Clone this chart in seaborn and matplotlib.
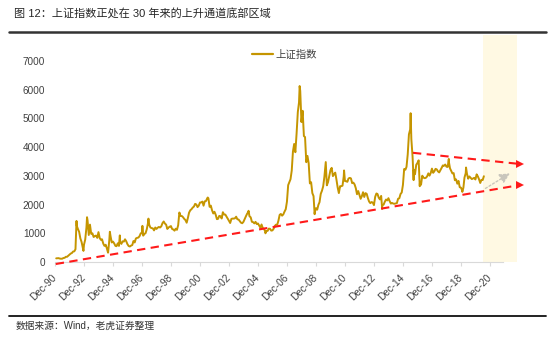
import numpy as np
import pandas as pd
import matplotlib
matplotlib.use("Agg")
import matplotlib.pyplot as plt
import seaborn as sns
from matplotlib.lines import Line2D

# ---------------- data ----------------
title = "图 12：上证指数正处在 30 年来的上升通道底部区域"
source = "数据来源：Wind，老虎证券整理"
series_name = "上证指数"

# month-end closes, Dec 1990 .. Jun 2020
close_1990 = [127]
close_1991 = [130, 134, 120, 114, 115, 138, 145, 181, 180, 219, 260, 293]
close_1992 = [313, 364, 370, 445, 1266, 1150, 1050, 820, 700, 500, 600, 780]
close_1993 = [1200, 1450, 940, 1300, 980, 1000, 870, 900, 920, 840, 1040, 833]
close_1994 = [770, 790, 640, 560, 600, 470, 333, 780, 900, 680, 710, 648]
close_1995 = [560, 550, 650, 560, 700, 630, 720, 710, 790, 720, 620, 555]
close_1996 = [540, 570, 590, 730, 680, 820, 840, 850, 900, 1000, 1000, 917]
close_1997 = [980, 1000, 1140, 1350, 1300, 1200, 1180, 1170, 1100, 1200, 1150, 1194]
close_1998 = [1220, 1200, 1240, 1350, 1410, 1340, 1300, 1150, 1200, 1230, 1250, 1146]
close_1999 = [1130, 1090, 1160, 1120, 1280, 1690, 1600, 1600, 1560, 1500, 1460, 1367]
close_2000 = [1535, 1715, 1800, 1836, 1894, 1928, 2023, 2001, 1911, 1961, 2070, 2073]
close_2001 = [2103, 1960, 2112, 2120, 2214, 2218, 1920, 1961, 1800, 1689, 1748, 1646]
close_2002 = [1491, 1500, 1604, 1595, 1514, 1733, 1651, 1650, 1581, 1503, 1436, 1357]
close_2003 = [1500, 1511, 1511, 1521, 1577, 1487, 1477, 1421, 1367, 1349, 1397, 1497]
close_2004 = [1590, 1675, 1742, 1593, 1555, 1400, 1387, 1343, 1397, 1320, 1341, 1266]
close_2005 = [1191, 1306, 1181, 1159, 1060, 1080, 1083, 1162, 1155, 1092, 1100, 1161]
close_2006 = [1259, 1299, 1299, 1441, 1642, 1672, 1612, 1658, 1753, 1838, 2099, 2675]
close_2007 = [2786, 2881, 3183, 3841, 4109, 3821, 4471, 5219, 5552, 5954, 4871, 5262]
close_2008 = [4383, 4348, 3473, 3693, 3433, 2736, 2776, 2397, 2293, 1729, 1871, 1821]
close_2009 = [1991, 2082, 2373, 2478, 2633, 2959, 3412, 2668, 2779, 2996, 3195, 3277]
close_2010 = [2989, 3051, 3110, 2871, 2592, 2398, 2638, 2639, 2656, 2979, 2820, 2808]
close_2011 = [2791, 2905, 2928, 2911, 2743, 2762, 2701, 2568, 2359, 2469, 2333, 2199]
close_2012 = [2293, 2429, 2263, 2397, 2373, 2225, 2103, 2048, 2086, 2069, 1980, 2269]
close_2013 = [2385, 2366, 2237, 2178, 2301, 1979, 1994, 2098, 2175, 2142, 2221, 2116]
close_2014 = [2033, 2056, 2033, 2026, 2039, 2048, 2202, 2217, 2364, 2420, 2683, 3235]
close_2015 = [3210, 3310, 3748, 4442, 4612, 4277, 3664, 3206, 3053, 3383, 3446, 3539]
close_2016 = [2738, 2688, 3004, 2938, 2917, 2930, 2979, 3085, 3005, 3100, 3250, 3104]
close_2017 = [3159, 3242, 3223, 3155, 3117, 3192, 3273, 3361, 3349, 3393, 3317, 3307]
close_2018 = [3481, 3259, 3169, 3082, 3095, 2847, 2876, 2725, 2821, 2603, 2588, 2494]
close_2019 = [2585, 2941, 3091, 3078, 2899, 2979, 2933, 2886, 2905, 2929, 2872, 3050]
close_2020 = [2977, 2880, 2750, 2860, 2852, 2985]

# intra-month extremes
extreme_dates = ["1992-05-26", "1992-11-17", "1993-02-15", "1994-07-29", "1994-09-13",
                 "1995-05-22", "1996-12-11", "1997-05-12", "1999-06-30", "2001-06-14",
                 "2004-04-07", "2005-06-06", "2007-10-16", "2008-10-28", "2009-08-04",
                 "2010-11-08", "2013-06-25", "2015-06-12", "2015-08-26", "2016-01-28",
                 "2018-01-29", "2019-01-04", "2019-04-08"]
extreme_values = [1429, 386, 1558, 325, 1052,
                  926, 1258, 1510, 1756, 2245,
                  1783, 998, 6124, 1664, 3478,
                  3186, 1849, 5178, 2850, 2638,
                  3587, 2440, 3288]

# channel lines (start / end)
lower_dates = ["1990-12-20", "2023-01-01"]
lower_values = [-70, 2680]
upper_dates = ["2015-08-10", "2023-01-01"]
upper_values = [3800, 3410]
guess_dates = ["2020-06-10", "2022-06-15"]
guess_values = [2510, 3135]
shade_dates = ["2020-06-08", "2022-10-12"]

xtick_years = list(range(1990, 2021, 2))
yticks = [0, 1000, 2000, 3000, 4000, 5000, 6000, 7000]

# ---------------- build frame ----------------
monthly = (close_1990 + close_1991 + close_1992 + close_1993 + close_1994 + close_1995 +
           close_1996 + close_1997 + close_1998 + close_1999 + close_2000 + close_2001 +
           close_2002 + close_2003 + close_2004 + close_2005 + close_2006 + close_2007 +
           close_2008 + close_2009 + close_2010 + close_2011 + close_2012 + close_2013 +
           close_2014 + close_2015 + close_2016 + close_2017 + close_2018 + close_2019 +
           close_2020)
mdates_ = pd.date_range("1990-12-31", periods=len(monthly), freq="ME")
df = pd.concat([
    pd.DataFrame({"date": mdates_, "close": monthly}),
    pd.DataFrame({"date": pd.to_datetime(extreme_dates), "close": extreme_values}),
]).sort_values("date").reset_index(drop=True)

# ---------------- style ----------------
sns.set_theme(style="white")
plt.rcParams["font.family"] = ["Liberation Sans", "Noto Sans CJK SC", "DejaVu Sans"]

W, H = 558, 342
fig = plt.figure(figsize=(W / 100, H / 100), dpi=100)
ax = fig.add_axes([55 / W, (H - 262) / H, 448 / W, 227 / H])

gold = "#C59500"
sns.lineplot(data=df, x="date", y="close", ax=ax, color=gold, lw=1.4,
             label=series_name, legend=False, zorder=3)

# shaded future zone
ax.axvspan(pd.Timestamp(shade_dates[0]), pd.Timestamp(shade_dates[1]),
           color="#FFF9E3", lw=0, zorder=0, clip_on=False)

# channel lines
red = "#FF1A1A"
for ds, vs in [(lower_dates, lower_values), (upper_dates, upper_values)]:
    d = pd.to_datetime(ds)
    ax.plot(d, vs, color=red, lw=1.5, ls=(0, (4, 2.6)), clip_on=False, zorder=4)
    ax.plot([d[-1]], [vs[-1]], marker=">", color=red, ms=5.5, mew=0,
            clip_on=False, zorder=5)

gd = pd.to_datetime(guess_dates)
ax.annotate("", xy=(gd[1], guess_values[1]), xytext=(gd[0], guess_values[0]),
            arrowprops=dict(arrowstyle="-|>,head_length=0.5,head_width=0.25",
                            color="#C9C6BC", lw=1.0, ls=(0, (1.5, 1.5))),
            annotation_clip=False, zorder=4)

# axes
ax.set_xlim(pd.Timestamp("1990-12-01"), pd.Timestamp("2021-10-25"))
ax.set_ylim(0, 7900)
ax.set_yticks(yticks)
ax.set_yticklabels([str(v) for v in yticks])
ax.set_xticks(pd.to_datetime([f"{y}-12-01" for y in xtick_years]))
ax.set_xticklabels([f"Dec-{y % 100:02d}" for y in xtick_years])
ax.set_xlabel("")
ax.set_ylabel("")
for s in ["top", "right", "left"]:
    ax.spines[s].set_visible(False)
ax.spines["bottom"].set_color("#D9D9D9")
ax.spines["bottom"].set_linewidth(0.8)
ax.tick_params(axis="y", length=0, pad=7, labelsize=7.2, labelcolor="#404040")
ax.tick_params(axis="x", length=3, width=0.8, color="#D9D9D9", pad=7,
               labelsize=7.2, labelcolor="#404040", direction="out", bottom=True)
for lab in ax.get_xticklabels():
    lab.set_rotation(45)
    lab.set_ha("right")
    lab.set_va("center")
    lab.set_rotation_mode("anchor")
ax.grid(False)
ax.set_facecolor("none")

# legend
handle = Line2D([], [], color=gold, lw=1.6)
fig.legend([handle], [series_name], loc="center left",
           bbox_to_anchor=(252 / W, 1 - 55 / H), frameon=False, fontsize=7.5,
           handlelength=2.0, handletextpad=0.3, borderpad=0, borderaxespad=0,
           labelcolor="#404040")

# title, rules and source
fig.text(14 / W, 1 - 14 / H, title, fontsize=8, color="#262626", va="center", ha="left")
fig.add_artist(Line2D([9 / W, 546 / W], [1 - 32 / H, 1 - 32 / H], color="#333333", lw=1.8))
fig.add_artist(Line2D([9 / W, 546 / W], [1 - 316 / H, 1 - 316 / H], color="#111111", lw=1.3))
fig.text(16 / W, 1 - 326 / H, source, fontsize=7, color="#333333", va="center", ha="left")

fig.savefig("out.png", dpi=100)
